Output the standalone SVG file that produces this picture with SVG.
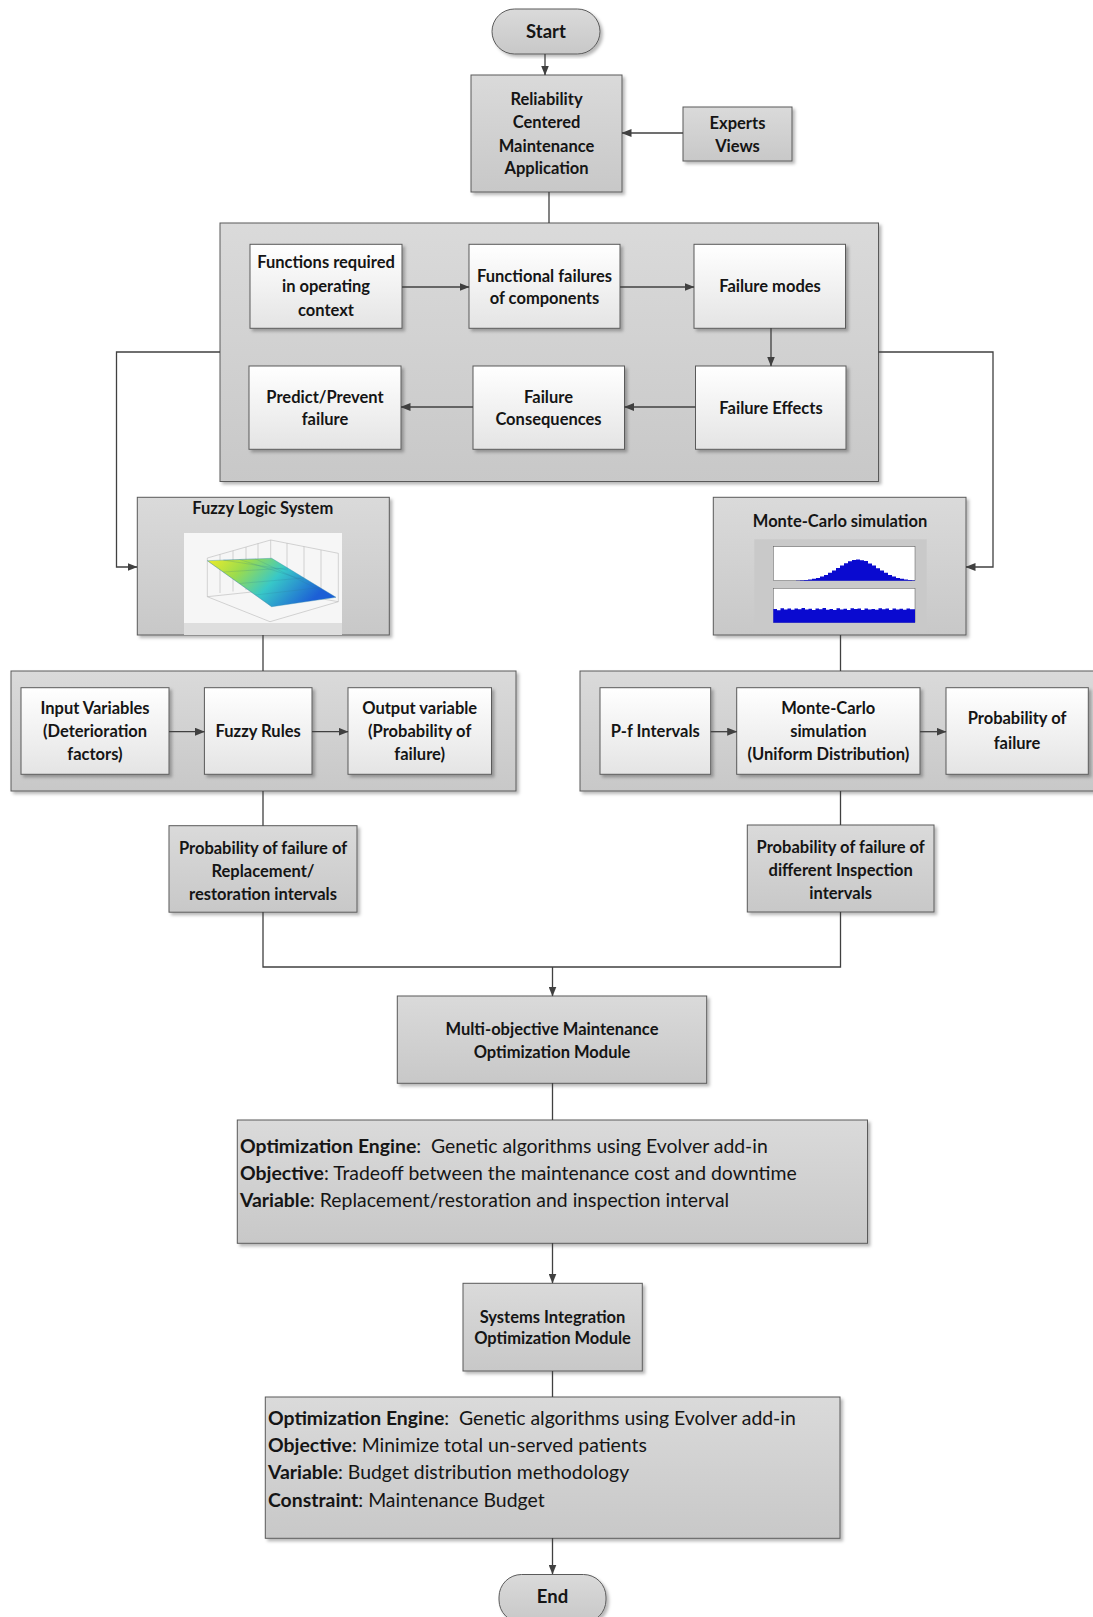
<svg xmlns="http://www.w3.org/2000/svg" width="1093" height="1617" viewBox="0 0 1093 1617">
  <defs>
    <linearGradient id="gGray" x1="0" y1="0" x2="0" y2="1">
      <stop offset="0" stop-color="#dadada"/>
      <stop offset="1" stop-color="#c8c8c8"/>
    </linearGradient>
    <linearGradient id="gWhite" x1="0" y1="0" x2="0" y2="1">
      <stop offset="0" stop-color="#ffffff"/>
      <stop offset="1" stop-color="#e4e4e4"/>
    </linearGradient>
    <linearGradient id="gSurf" x1="0" y1="0" x2="1" y2="0.35">
      <stop offset="0" stop-color="#f0ec2a"/>
      <stop offset="0.3" stop-color="#9cdc4c"/>
      <stop offset="0.6" stop-color="#38c8c8"/>
      <stop offset="1" stop-color="#1c5fd6"/>
    </linearGradient>
    <filter id="shadow" x="-5%" y="-5%" width="115%" height="115%">
      <feDropShadow dx="2.5" dy="2.5" stdDeviation="1.5" flood-color="#000" flood-opacity="0.28"/>
    </filter>
    <marker id="ah" markerWidth="10" markerHeight="8" refX="9.5" refY="4" orient="auto" markerUnits="userSpaceOnUse">
      <path d="M0,0 L10,4 L0,8 Z" fill="#404040"/>
    </marker>
    <style>
      .box { fill: url(#gGray); stroke: #5a5a5a; stroke-width: 1; filter: url(#shadow); }
      .wbox { fill: url(#gWhite); stroke: #5a5a5a; stroke-width: 1; filter: url(#shadow); }
      .lbl { font-family: Lato, "Liberation Sans", sans-serif; font-weight: bold; font-size: 16.5px; fill: #151515; text-anchor: middle; }
      .term { font-size: 18.5px; }
      .body { font-family: Lato, "Liberation Sans", sans-serif; font-size: 19.4px; fill: #151515; white-space: pre; }
      .body .b { font-weight: bold; }
      .conn path { fill: none; stroke: #404040; stroke-width: 1.3; }
      .arr { marker-end: url(#ah); }
      .axis { fill: none; stroke: #b8b8b8; stroke-width: 0.6; }
    </style>
  </defs>

  <rect width="1093" height="1617" fill="#ffffff"/>

  <!-- start / end terminals -->
  <g id="start">
    <rect class="box" x="492" y="9" width="108" height="45" rx="22.5"/>
    <text class="lbl term" x="546" y="37.5">Start</text>
  </g>

  <g id="rcm">
    <rect class="box" x="471" y="75" width="151" height="117"/>
    <text class="lbl" x="546.5" y="105">Reliability</text>
    <text class="lbl" x="546.5" y="128">Centered</text>
    <text class="lbl" x="546.5" y="152">Maintenance</text>
    <text class="lbl" x="546.5" y="174">Application</text>
  </g>

  <g id="experts">
    <rect class="box" x="683" y="107" width="109" height="54"/>
    <text class="lbl" x="737.5" y="129">Experts</text>
    <text class="lbl" x="737.5" y="152">Views</text>
  </g>

  <!-- RCM process container -->
  <g id="rcm-process">
    <rect class="box" x="220" y="223" width="658.5" height="258.5"/>
  </g>
  <g id="functions">
    <rect class="wbox" x="250" y="244.3" width="152" height="84"/>
    <text class="lbl" x="326" y="268">Functions required</text>
    <text class="lbl" x="326" y="292">in operating</text>
    <text class="lbl" x="326" y="316">context</text>
  </g>
  <g id="functional-failures">
    <rect class="wbox" x="469" y="244.3" width="151" height="84"/>
    <text class="lbl" x="544.5" y="281.5">Functional failures</text>
    <text class="lbl" x="544.5" y="304">of components</text>
  </g>
  <g id="failure-modes">
    <rect class="wbox" x="694" y="244.3" width="151.5" height="84"/>
    <text class="lbl" x="770" y="292">Failure modes</text>
  </g>
  <g id="predict">
    <rect class="wbox" x="249" y="366" width="152" height="83.3"/>
    <text class="lbl" x="325" y="402.5">Predict/Prevent</text>
    <text class="lbl" x="325" y="424.5">failure</text>
  </g>
  <g id="consequences">
    <rect class="wbox" x="473" y="366" width="151.5" height="83.3"/>
    <text class="lbl" x="548.5" y="402.5">Failure</text>
    <text class="lbl" x="548.5" y="424.5">Consequences</text>
  </g>
  <g id="effects">
    <rect class="wbox" x="695.5" y="366" width="150.5" height="83.3"/>
    <text class="lbl" x="771" y="413.5">Failure Effects</text>
  </g>

  <!-- Fuzzy logic system with surface plot -->
  <g id="fuzzy-logic">
    <rect class="box" x="137.3" y="497.3" width="252" height="137.7"/>
    <text class="lbl" x="262.7" y="514">Fuzzy Logic System</text>
    <rect x="184" y="533" width="158" height="90" fill="#f6f6f6"/>
    <rect x="184" y="623" width="158" height="12" fill="#dedede"/>
    <path class="axis" d="M207.3,558 L270.7,540 L338.3,553.3 M207.3,558 V596.7 L270,621.7 L338.3,601.7 V553.3 M270.7,540 V590 M207.3,596.7 L270.7,590 L338.3,601.7"/>
    <path class="axis" d="M220,554.5 V593 M233,550.8 V591.5 M246,547 V590 M258,543.5 V589 M287,543 V594 M304,546.5 V597.5 M321,550 V599.5"/>
    <path d="M207.3,560.7 L271.7,558.3 L336,597.3 L271.7,606.7 Z" fill="url(#gSurf)" stroke="#3a8fb0" stroke-width="0.4"/>
    <path d="M223.4,560.1 L239.5,559.5 L255.6,558.9 M223.4,572 L287.8,568 M239.5,583.5 L303.9,578 M255.6,595 L320,587.5 M223.4,560.1 L287.8,570 M239.5,559.5 L303.9,580 M255.6,558.9 L320,590 M207.3,560.7 L271.7,606.7" fill="none" stroke="#2f6f8f" stroke-width="0.3" opacity="0.6"/>
  </g>

  <!-- Monte-Carlo simulation with histograms -->
  <g id="monte-carlo">
    <rect class="box" x="713.3" y="497.3" width="252.7" height="137.7"/>
    <text class="lbl" x="840" y="527">Monte-Carlo simulation</text>
    <rect x="754.3" y="539.3" width="172.4" height="92.4" fill="#c9c9c9"/>
    <rect x="773.3" y="546.7" width="141.7" height="34" fill="#ffffff" stroke="#555" stroke-width="0.5"/>
    <rect x="773.3" y="588.3" width="141.7" height="34.4" fill="#ffffff" stroke="#555" stroke-width="0.5"/>
    <path fill="#0a0ad0" d="M796,580.7 V580.5 H800 V580.3 H804 V580 H808 V579.5 H812 V578.8 H816 V577.9 H820 V576.5 H824 V574.9 H828 V572.8 H832 V570.5 H836 V568 H840 V565.5 H844 V563.2 H848 V561.3 H852 V560.1 H856 V559.5 H860 V560.3 H864 V561.1 H868 V563.4 H872 V565.5 H876 V568.2 H880 V570.5 H884 V572.8 H888 V574.9 H892 V576.5 H896 V577.9 H900 V578.8 H904 V579.5 H908 V580 H912 V580.3 H915 V580.7 Z"/>
    <path fill="#0a0ad0" d="M773.3,622.7 V609 H777 V610.2 H780.5 V608.2 H784 V609.5 H787.5 V608.6 H791 V609.8 H794.5 V608.4 H798 V609.3 H801.5 V608 H805 V609.6 H808.5 V608.8 H812 V610 H815.5 V608.5 H819 V609.2 H822.5 V608.1 H826 V609.7 H829.5 V608.9 H833 V609.9 H836.5 V608.3 H840 V609.4 H843.5 V608.7 H847 V609.9 H850.5 V608.2 H854 V609.1 H857.5 V608.6 H861 V610.1 H864.5 V608.4 H868 V609.5 H871.5 V608.9 H875 V609.8 H878.5 V608.3 H882 V609.3 H885.5 V608.6 H889 V610 H892.5 V608.5 H896 V609.4 H899.5 V608.8 H903 V609.7 H906.5 V608.4 H910 V609.2 H915 V622.7 Z"/>
  </g>

  <!-- Fuzzy inference chain -->
  <g id="fuzzy-chain">
    <rect class="box" x="11" y="671" width="505" height="120"/>
  </g>
  <g id="input-variables">
    <rect class="wbox" x="21" y="687.7" width="148" height="86.6"/>
    <text class="lbl" x="95" y="714.3">Input Variables</text>
    <text class="lbl" x="95" y="737">(Deterioration</text>
    <text class="lbl" x="95" y="760.3">factors)</text>
  </g>
  <g id="fuzzy-rules">
    <rect class="wbox" x="204.4" y="687.7" width="107.6" height="86.6"/>
    <text class="lbl" x="258.2" y="737">Fuzzy Rules</text>
  </g>
  <g id="output-variable">
    <rect class="wbox" x="348" y="687.7" width="143.5" height="86.6"/>
    <text class="lbl" x="419.7" y="714.3">Output variable</text>
    <text class="lbl" x="419.7" y="737">(Probability of</text>
    <text class="lbl" x="419.7" y="760.3">failure)</text>
  </g>

  <!-- Monte-Carlo chain -->
  <g id="mc-chain">
    <rect class="box" x="580" y="671" width="520" height="120"/>
  </g>
  <g id="pf-intervals">
    <rect class="wbox" x="600" y="687.7" width="110.7" height="86.6"/>
    <text class="lbl" x="655.3" y="737">P-f Intervals</text>
  </g>
  <g id="mc-uniform">
    <rect class="wbox" x="736.7" y="687.7" width="183.3" height="86.6"/>
    <text class="lbl" x="828.3" y="714.3">Monte-Carlo</text>
    <text class="lbl" x="828.3" y="737">simulation</text>
    <text class="lbl" x="828.3" y="760.3">(Uniform Distribution)</text>
  </g>
  <g id="mc-probability">
    <rect class="wbox" x="946" y="687.7" width="142.3" height="86.6"/>
    <text class="lbl" x="1017" y="724.3">Probability of</text>
    <text class="lbl" x="1017" y="749.3">failure</text>
  </g>

  <g id="pof-replacement">
    <rect class="box" x="169" y="825.7" width="188" height="86.5"/>
    <text class="lbl" x="263" y="853.7">Probability of failure of</text>
    <text class="lbl" x="263" y="877">Replacement/</text>
    <text class="lbl" x="263" y="900.3">restoration intervals</text>
  </g>
  <g id="pof-inspection">
    <rect class="box" x="747.3" y="825" width="186.7" height="87"/>
    <text class="lbl" x="840.7" y="852.7">Probability of failure of</text>
    <text class="lbl" x="840.7" y="876">different Inspection</text>
    <text class="lbl" x="840.7" y="899">intervals</text>
  </g>

  <g id="multi-objective">
    <rect class="box" x="397.3" y="996" width="309.4" height="87.3"/>
    <text class="lbl" x="552" y="1035">Multi-objective Maintenance</text>
    <text class="lbl" x="552" y="1057.7">Optimization Module</text>
  </g>

  <g id="maintenance-optimization">
    <rect class="box" x="237.3" y="1120" width="630.2" height="123.3"/>
    <text class="body" x="240" y="1153"><tspan class="b">Optimization Engine</tspan>:  Genetic algorithms using Evolver add-in</text>
    <text class="body" x="240" y="1180"><tspan class="b">Objective</tspan>: Tradeoff between the maintenance cost and downtime</text>
    <text class="body" x="240" y="1206.5"><tspan class="b">Variable</tspan>: Replacement/restoration and inspection interval</text>
  </g>

  <g id="systems-integration">
    <rect class="box" x="463" y="1283.3" width="179.3" height="87.7"/>
    <text class="lbl" x="552.5" y="1322.7">Systems Integration</text>
    <text class="lbl" x="552.5" y="1344.3">Optimization Module</text>
  </g>

  <g id="budget-optimization">
    <rect class="box" x="265.3" y="1397" width="574.7" height="141.3"/>
    <text class="body" x="268" y="1425"><tspan class="b">Optimization Engine</tspan>:  Genetic algorithms using Evolver add-in</text>
    <text class="body" x="268" y="1452"><tspan class="b">Objective</tspan>: Minimize total un-served patients</text>
    <text class="body" x="268" y="1479"><tspan class="b">Variable</tspan>: Budget distribution methodology</text>
    <text class="body" x="268" y="1506.5"><tspan class="b">Constraint</tspan>: Maintenance Budget</text>
  </g>

  <g id="end">
    <rect class="box" x="499" y="1574.5" width="107" height="48" rx="22.5"/>
    <text class="lbl term" x="552.5" y="1603">End</text>
  </g>

  <!-- connectors, drawn above the container panels -->
  <g id="connectors" class="conn">
    <path class="arr" d="M545,54 V75"/>
    <path class="arr" d="M683,133 H622"/>
    <path d="M549,192 V223"/>
    <path class="arr" d="M402,287 H469"/>
    <path class="arr" d="M620,287 H694"/>
    <path class="arr" d="M771,328 V366"/>
    <path class="arr" d="M695.5,407 H624.5"/>
    <path class="arr" d="M473,407 H401"/>
    <path class="arr" d="M220,352 H116.5 V567 H137"/>
    <path class="arr" d="M878.5,352 H993 V567 H966"/>
    <path d="M263,635 V671"/>
    <path d="M840.5,635 V671"/>
    <path class="arr" d="M169,731.7 H204.4"/>
    <path class="arr" d="M312,731.7 H348"/>
    <path class="arr" d="M710.7,731.7 H736.7"/>
    <path class="arr" d="M920,731.7 H946"/>
    <path d="M263,791 V825.7"/>
    <path d="M840.5,791 V825"/>
    <path d="M263,912 V967 H840.5 V912"/>
    <path class="arr" d="M552.5,967 V996"/>
    <path d="M552.5,1083 V1120"/>
    <path class="arr" d="M552.5,1243 V1283"/>
    <path d="M552.5,1371 V1397"/>
    <path class="arr" d="M552.5,1538 V1574"/>
  </g>
</svg>
